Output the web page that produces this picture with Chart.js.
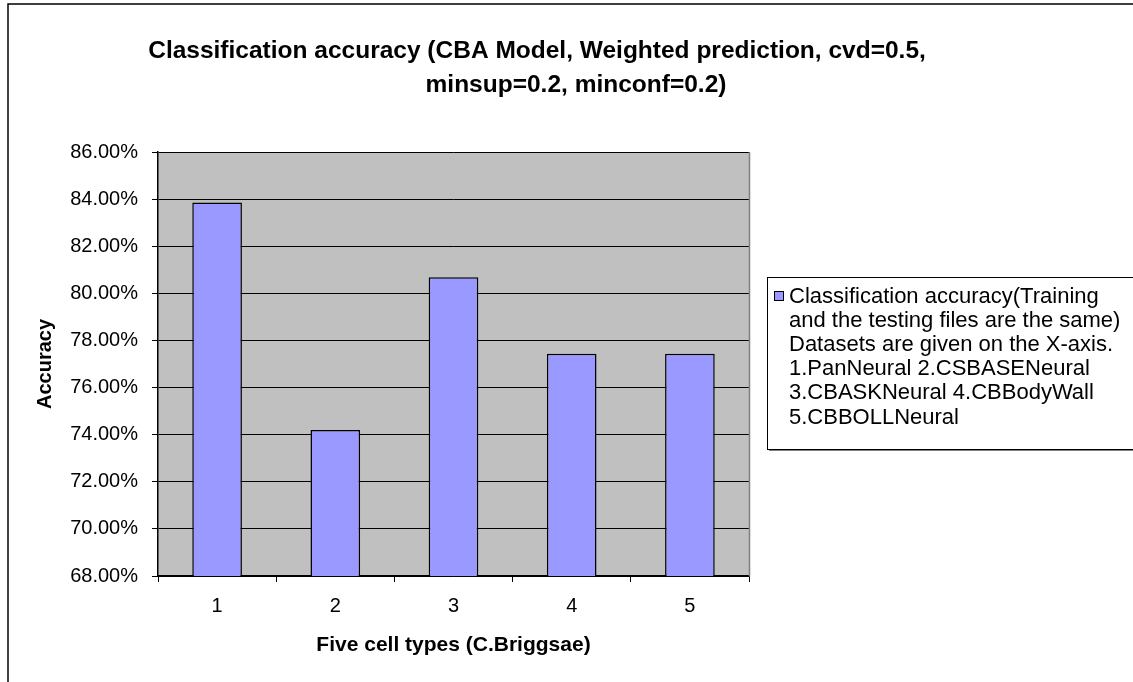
<!DOCTYPE html>
<html><head><meta charset="utf-8">
<script src="https://cdn.jsdelivr.net/npm/chart.js@4.4.0/dist/chart.umd.min.js"></script>
<style>html,body{margin:0;padding:0;background:#fff;}canvas{display:block;}</style>
</head><body>
<canvas id="c" width="1133" height="682"></canvas>
<script>
const categories = ['1', '2', '3', '4', '5'];
const accuracy = [83.86, 74.20, 80.68, 77.44, 77.44];
const yTickValues = [68, 70, 72, 74, 76, 78, 80, 82, 84, 86];
const titleLines = ['Classification accuracy (CBA Model, Weighted prediction, cvd=0.5,', 'minsup=0.2, minconf=0.2)'];
const seriesName = 'Classification accuracy(Training and the testing files are the same) Datasets are given on the X-axis. 1.PanNeural 2.CSBASENeural 3.CBASKNeural 4.CBBodyWall 5.CBBOLLNeural';
const legendLines = ['Classification accuracy(Training', 'and the testing files are the same)', 'Datasets are given on the X-axis.', '1.PanNeural 2.CSBASENeural', '3.CBASKNeural 4.CBBodyWall', '5.CBBOLLNeural'];
const xAxisTitle = 'Five cell types (C.Briggsae)';
const yAxisTitle = 'Accuracy';

const FONT = "'Liberation Sans', Arial, sans-serif";

const decor = {
  id: 'decor',
  beforeDraw(chart) {
    const ctx = chart.ctx, a = chart.chartArea;
    ctx.save();
    ctx.fillStyle = '#fff';
    ctx.fillRect(0, 0, chart.width, chart.height);
    ctx.strokeStyle = '#000';
    ctx.lineWidth = 1.5;
    ctx.beginPath();
    ctx.moveTo(8, chart.height);
    ctx.lineTo(8, 4);
    ctx.lineTo(chart.width, 4);
    ctx.stroke();
    ctx.fillStyle = '#C0C0C0';
    ctx.fillRect(a.left, a.top, a.right - a.left, a.bottom - a.top);
    ctx.restore();
  },
  afterDraw(chart) {
    const ctx = chart.ctx, a = chart.chartArea;
    ctx.save();
    ctx.strokeStyle = '#808080';
    ctx.lineWidth = 1.5;
    ctx.beginPath();
    ctx.moveTo(a.right + 0.5, a.top);
    ctx.lineTo(a.right + 0.5, a.bottom);
    ctx.stroke();
    ctx.fillStyle = '#000';
    ctx.textAlign = 'center';
    ctx.textBaseline = 'middle';
    ctx.font = 'bold 24.5px ' + FONT;
    ctx.fillText(titleLines[0], 537, 51);
    ctx.fillText(titleLines[1], 576, 85);
    const lx = 767, ly = 277, lw = 400, lh = 172;
    ctx.fillStyle = '#808080';
    ctx.fillRect(lx + 2, ly + lh, lw, 2);
    ctx.fillStyle = '#fff';
    ctx.fillRect(lx, ly, lw, lh);
    ctx.strokeStyle = '#000';
    ctx.lineWidth = 1;
    ctx.strokeRect(lx + 0.5, ly + 0.5, lw, lh);
    const ds = chart.data.datasets[0];
    ctx.fillStyle = ds.backgroundColor;
    ctx.fillRect(774, 291, 9, 9);
    ctx.strokeStyle = '#000';
    ctx.strokeRect(774.5, 291.5, 9, 9);
    ctx.fillStyle = '#000';
    ctx.textAlign = 'left';
    ctx.font = '22px ' + FONT;
    legendLines.forEach((t, i) => ctx.fillText(t, 789, 297 + i * 24.1));
    ctx.restore();
  }
};

new Chart(document.getElementById('c'), {
  type: 'bar',
  data: {
    labels: categories,
    datasets: [{
      label: seriesName,
      data: accuracy,
      backgroundColor: '#9999FF',
      borderColor: '#000',
      borderWidth: 1.5,
      barPercentage: 0.42,
      categoryPercentage: 1.0
    }]
  },
  options: {
    responsive: false,
    animation: false,
    events: [],
    layout: { padding: { left: 0, top: 152, right: 384, bottom: 0 } },
    plugins: { legend: { display: false }, title: { display: false }, tooltip: { enabled: false } },
    scales: {
      x: {
        grid: { display: true, drawOnChartArea: false, color: '#000', tickLength: 6, offset: true },
        border: { color: '#000', width: 1.5 },
        ticks: { color: '#000', font: { family: FONT, size: 20 }, padding: 12 },
        title: { display: true, text: xAxisTitle, color: '#000', font: { family: FONT, size: 21, weight: 'bold' }, padding: { top: 0, bottom: 24 } },
        afterFit(s) { s.height = 106; }
      },
      y: {
        min: 68, max: 86,
        afterBuildTicks(s) { s.ticks = yTickValues.map(v => ({ value: v })); },
        grid: { color: '#000', lineWidth: 1, tickLength: 6 },
        border: { color: '#000', width: 1.5 },
        ticks: { color: '#000', font: { family: FONT, size: 20 }, padding: 14, callback: v => v.toFixed(2) + '%' },
        title: { display: true, text: yAxisTitle, color: '#000', font: { family: FONT, size: 20, weight: 'bold' }, padding: { top: 33, bottom: 0 } },
        afterFit(s) { s.width = 158; }
      }
    }
  },
  plugins: [decor]
});
</script>
</body></html>
